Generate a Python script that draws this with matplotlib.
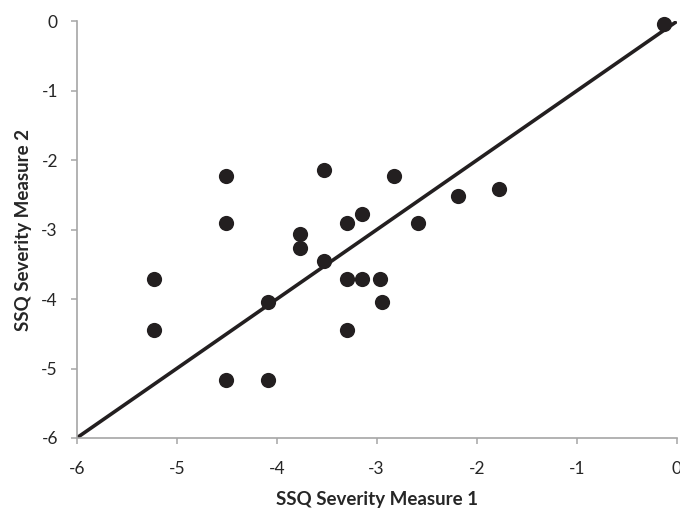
import matplotlib
matplotlib.use('Agg')
import matplotlib.pyplot as plt

# --- data ---
measure_1 = [-5.23, -5.23, -4.51, -4.51, -4.51, -4.09, -4.09, -3.77, -3.77,
             -3.53, -3.53, -3.30, -3.30, -3.30, -3.15, -3.15, -2.97, -2.95,
             -2.83, -2.59, -2.19, -1.78, -0.13]
measure_2 = [-3.71, -4.45, -2.23, -2.91, -5.16, -5.16, -4.04, -3.06, -3.26,
             -2.14, -3.45, -2.90, -3.71, -4.45, -2.78, -3.71, -3.71, -4.04,
             -2.23, -2.90, -2.51, -2.42, -0.03]
identity = [-6, 0]
ticks = [-6, -5, -4, -3, -2, -1, 0]

plt.rcParams['font.family'] = ['Lato', 'DejaVu Sans']
ink = '#231f20'
axis_grey = '#a6a6a6'

fig = plt.figure(figsize=(6.8, 5.11), dpi=100)
ax = fig.add_axes([0.1128, 0.1429, 0.8823, 0.8151])

ax.plot(identity, identity, color=ink, linewidth=2.6, solid_capstyle='butt', zorder=2)
ax.scatter(measure_1, measure_2, s=120, color=ink, linewidths=0, zorder=3, clip_on=False)

ax.set_xlim(-6, 0)
ax.set_ylim(-6, 0)
ax.set_xticks(ticks)
ax.set_yticks(ticks)
ax.set_xticklabels([str(t) for t in ticks])
ax.set_yticklabels([str(t) for t in ticks])

for side in ('top', 'right'):
    ax.spines[side].set_visible(False)
for side in ('left', 'bottom'):
    ax.spines[side].set_color(axis_grey)
    ax.spines[side].set_linewidth(1.2)

ax.tick_params(axis='both', direction='out', length=4.5, width=1.1,
               color=axis_grey, labelsize=12.5, labelcolor='#262626')
ax.tick_params(axis='x', pad=12)
ax.tick_params(axis='y', pad=9)

ax.set_xlabel('SSQ Severity Measure 1', fontsize=13.5, fontweight='bold',
              color='#262626', labelpad=10.5)
ax.set_ylabel('SSQ Severity Measure 2', fontsize=13.5, fontweight='bold',
              color='#262626', labelpad=7)

fig.savefig('out.png', dpi=100)
